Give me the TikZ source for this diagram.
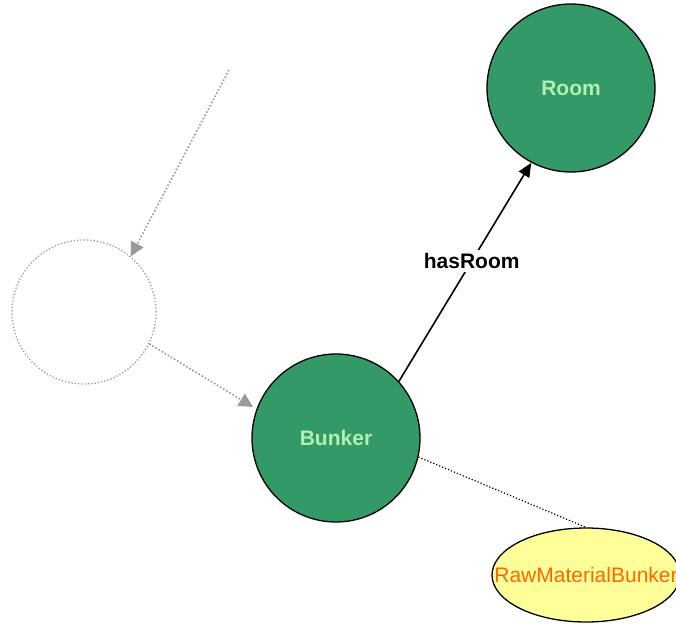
\documentclass[tikz,border=0pt]{standalone}
\usepackage{fontspec}
\setmainfont{Liberation Sans}
\usetikzlibrary{arrows.meta,shapes.geometric}
\definecolor{nodegreen}{HTML}{339966}
\definecolor{lightgreentext}{HTML}{B0F0B0}
\definecolor{paleyellow}{HTML}{FFFF99}
\definecolor{orangetext}{HTML}{FF6600}
\definecolor{dotgray}{HTML}{999999}
\tikzset{
  classnode/.style={circle, draw=black, line width=1.3pt, fill=nodegreen, minimum size=168pt, inner sep=0pt,
    text=lightgreentext, font=\fontsize{21}{25}\selectfont\bfseries},
  ghostnode/.style={circle, draw=dotgray, dotted, line width=1.3pt, minimum size=144pt, inner sep=0pt},
  instnode/.style={ellipse, draw=black, line width=1.3pt, fill=paleyellow, minimum width=188pt, minimum height=94pt, inner sep=0pt},
  insttext/.style={text=orangetext, font=\fontsize{21}{25}\selectfont, inner sep=0pt},
  grayarrow/.style={draw=dotgray, dotted, line width=1.6pt, -{Triangle[length=14pt,width=14pt,fill=dotgray]}},
  relarrow/.style={draw=black, line width=1.6pt, -{Triangle[length=14pt,width=12pt]}},
  rellabel/.style={fill=white, inner sep=3pt, font=\fontsize{21}{25}\selectfont\bfseries},
  typeline/.style={draw=black, dotted, line width=1.2pt}
}
\begin{document}
\begin{tikzpicture}[x=1pt,y=-1pt]
\useasboundingbox (0,0) rectangle (676,623);
\node[classnode] (room) at (571,88) {Room};
\node[classnode] (bunker) at (336,438) {Bunker};
\node[ghostnode] (ghost) at (84,312) {};
\node[instnode] (raw) at (586,575) {};
\node[insttext] (rawtext) at (raw.center) {RawMaterialBunker};
\coordinate (src) at (229,70);
\draw[grayarrow] (src) -- (ghost.50);
\draw[grayarrow, shorten >=4pt] (ghost.-26) -- (bunker.160);
\draw[relarrow] (bunker.42) -- node[rellabel, pos=0.55] {hasRoom} (room.242);
\draw[typeline] (bunker.-13) -- (raw.north);
\end{tikzpicture}
\end{document}
